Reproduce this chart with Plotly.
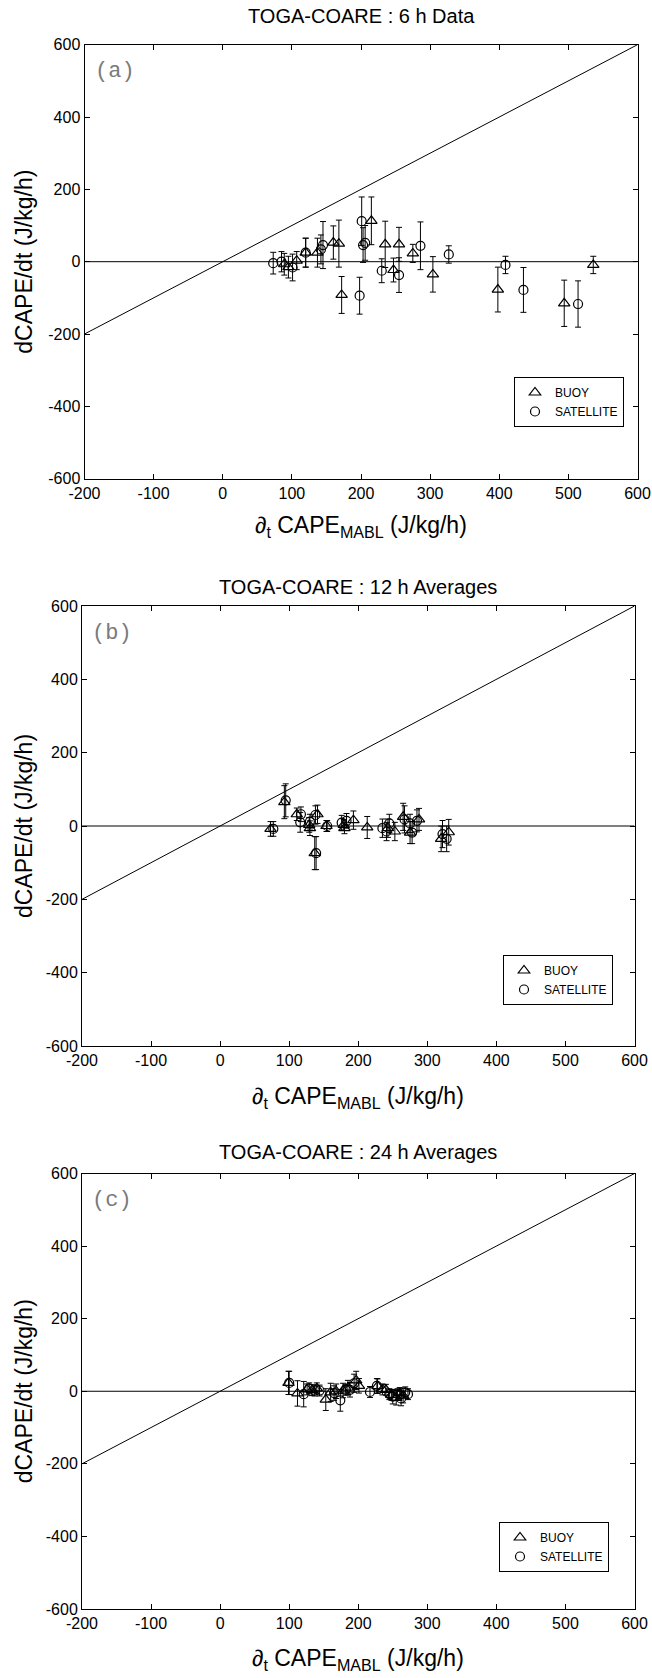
import plotly.graph_objects as go

# ---------------- data ----------------
# Panel (a): 6 h data
a_buoy_x = [89, 95, 107, 120, 137, 160, 168, 172, 215, 235, 247, 255, 275, 304, 398, 494, 536]
a_buoy_y = [-7, -15, 3, 25, 25, 53, 50, -92, 113, 48, -23, 48, 23, -35, -77, -115, -9]
a_buoy_e = [30, 30, 25, 40, 40, 46, 65, 51, 66, 64, 33, 47, 25, 49, 62, 64, 24]
a_sat_x = [73, 85, 101, 120, 142, 145, 198, 201, 203, 206, 230, 255, 286, 327, 409, 435, 514]
a_sat_y = [-4, 0, -16, 25, 34, 46, -94, 112, 46, 52, -25, -37, 44, 20, -9, -78, -117]
a_sat_e = [30, 28, 37, 40, 40, 65, 51, 67, 48, 48, 33, 48, 66, 24, 24, 62, 64]

# Panel (b): 12 h averages
b_buoy_x = [73, 93, 111, 129, 130, 141, 137, 154, 179, 180, 193, 213, 243, 253, 265, 275, 288, 320, 331]
b_buoy_y = [-8, 65, 32, 3, -6, 32, -74, 0, 3, -6, 16, -4, -6, -15, 25, -18, 18, -35, -17]
b_buoy_e = [20, 45, 17, 20, 20, 25, 45, 15, 15, 15, 25, 30, 25, 25, 37, 30, 30, 35, 35]
b_sat_x = [77, 95, 117, 116, 130, 138, 139, 155, 176, 183, 235, 241, 245, 267, 275, 278, 285, 322, 328]
b_sat_y = [-8, 70, 32, 10, 12, 30, -74, 0, 9, 14, -6, -15, 7, 18, 7, -18, 14, -22, -35]
b_sat_e = [20, 45, 20, 27, 20, 25, 45, 15, 20, 20, 25, 25, 25, 37, 25, 30, 30, 37, 35]

# Panel (c): 24 h averages
c_buoy_x = [99, 112, 126, 133, 140, 153, 160, 168, 178, 185, 197, 201, 228, 235, 240, 248, 255, 260, 265]
c_buoy_y = [23, -6, 5, 3, 8, -23, -3, 0, 2, 10, 30, 15, 14, 5, 4, -10, -18, -5, -12]
c_buoy_e = [32, 35, 15, 15, 15, 30, 25, 20, 20, 20, 25, 20, 20, 15, 15, 15, 20, 15, 20]
c_sat_x = [100, 121, 129, 137, 144, 165, 174, 182, 188, 194, 217, 227, 245, 250, 257, 262, 268, 272]
c_sat_y = [23, -8, 8, 2, 2, -5, -25, 4, 4, 22, -2, 15, -8, -15, -8, -20, -3, -8]
c_sat_e = [32, 35, 15, 15, 15, 20, 30, 15, 20, 25, 15, 20, 15, 20, 15, 20, 15, 15]

# reference lines
ref_x = [-200, 600]
one_to_one_y = [-200, 600]
zero_y = [0, 0]

titles = ["TOGA-COARE : 6 h Data", "TOGA-COARE : 12 h Averages", "TOGA-COARE : 24 h Averages"]
panel_tags = ["(a)", "(b)", "(c)"]
x_ticks = [-200, -100, 0, 100, 200, 300, 400, 500, 600]
x_tick_text = ["-200", "-100", "0", "100", "200", "300", "400", "500", "600"]
y_ticks = [-600, -400, -200, 0, 200, 400, 600]
y_tick_text = ["-600", "-400", "-200", "0", "200", "400", "600"]

# ---------------- layout geometry (pixels) ----------------
W, H = 652, 1678
panels_px = [  # left, right, top, bottom
    (84.5, 637.5, 44.7, 478.7),
    (82.0, 634.5, 606.0, 1046.0),
    (82.0, 634.5, 1173.5, 1609.0),
]
legend_px = [(514, 377), (503, 955), (499, 1522)]
title_y_px = [16, 587, 1152]
xlabel_y_px = [527, 1097, 1659]

FONT = "Liberation Sans, Arial, Helvetica, sans-serif"

fig = go.Figure()
datasets = [
    (a_buoy_x, a_buoy_y, a_buoy_e, a_sat_x, a_sat_y, a_sat_e),
    (b_buoy_x, b_buoy_y, b_buoy_e, b_sat_x, b_sat_y, b_sat_e),
    (c_buoy_x, c_buoy_y, c_buoy_e, c_sat_x, c_sat_y, c_sat_e),
]

annotations = []
layout_axes = {}
for i, (bx, by, be, sx, sy, se) in enumerate(datasets):
    n = "" if i == 0 else str(i + 1)
    xa, ya = "x" + n, "y" + n
    leg = "legend" + n
    fig.add_trace(go.Scatter(x=ref_x, y=one_to_one_y, mode="lines", xaxis=xa, yaxis=ya,
                             line=dict(color="black", width=1), showlegend=False, hoverinfo="skip"))
    fig.add_trace(go.Scatter(x=ref_x, y=zero_y, mode="lines", xaxis=xa, yaxis=ya,
                             line=dict(color="black", width=1), showlegend=False, hoverinfo="skip"))
    fig.add_trace(go.Scatter(x=bx, y=by, mode="markers", name="BUOY", xaxis=xa, yaxis=ya, legend=leg,
                             marker=dict(symbol="triangle-up-open", size=10, color="black",
                                         line=dict(color="black", width=1.2)),
                             error_y=dict(type="data", array=be, visible=True, color="black",
                                          thickness=1, width=3)))
    fig.add_trace(go.Scatter(x=sx, y=sy, mode="markers", name="SATELLITE", xaxis=xa, yaxis=ya, legend=leg,
                             marker=dict(symbol="circle-open", size=9, color="black",
                                         line=dict(color="black", width=1.2)),
                             error_y=dict(type="data", array=se, visible=True, color="black",
                                          thickness=1, width=3)))

    l, r, t, b = panels_px[i]
    xdom = [l / W, r / W]
    ydom = [1 - b / H, 1 - t / H]
    common = dict(showline=True, linecolor="black", linewidth=1, mirror="ticks",
                  ticks="inside", ticklen=5, tickcolor="black", showgrid=False, zeroline=False,
                  automargin=False,
                  tickfont=dict(family=FONT, size=16, color="black"))
    layout_axes["xaxis" + n] = dict(domain=xdom, range=[-200, 600], tickvals=x_ticks,
                                    ticktext=x_tick_text, anchor=ya, **common)
    layout_axes["yaxis" + n] = dict(domain=ydom, range=[-600, 600], tickvals=y_ticks,
                                    ticktext=y_tick_text, anchor=xa, **common)
    lx, ly = legend_px[i]
    layout_axes[leg] = dict(x=lx / W, y=1 - ly / H, xanchor="left", yanchor="top",
                            xref="paper", yref="paper",
                            bordercolor="black", borderwidth=1, bgcolor="white",
                            font=dict(family=FONT, size=12, color="black"),
                            tracegroupgap=0)

    cx = (l + r) / 2 / W
    annotations.append(dict(text=titles[i], x=cx, y=1 - title_y_px[i] / H, xref="paper", yref="paper",
                            showarrow=False, xanchor="center", yanchor="middle",
                            font=dict(family=FONT, size=20, color="black")))
    annotations.append(dict(text="∂<sub>t</sub> CAPE<sub>MABL</sub> (J/kg/h)", x=cx,
                            y=1 - xlabel_y_px[i] / H, xref="paper", yref="paper",
                            showarrow=False, xanchor="center", yanchor="middle",
                            font=dict(family=FONT, size=23, color="black")))
    annotations.append(dict(text="dCAPE/dt (J/kg/h)", x=24 / W, y=1 - (t + b) / 2 / H,
                            xref="paper", yref="paper", textangle=-90, showarrow=False,
                            xanchor="center", yanchor="middle",
                            font=dict(family=FONT, size=23, color="black")))
    annotations.append(dict(text=panel_tags[i], x=(l + 8) / W, y=1 - (t + 27) / H,
                            xref="paper", yref="paper", showarrow=False,
                            xanchor="left", yanchor="middle",
                            font=dict(family="Liberation Mono, Courier New, monospace", size=22,
                                      color="#7a7a7a")))

fig.update_layout(width=W, height=H, margin=dict(l=0, r=0, t=0, b=0, pad=0, autoexpand=False),
                  paper_bgcolor="white", plot_bgcolor="white",
                  annotations=annotations, **layout_axes)

fig.write_html("out.html")
